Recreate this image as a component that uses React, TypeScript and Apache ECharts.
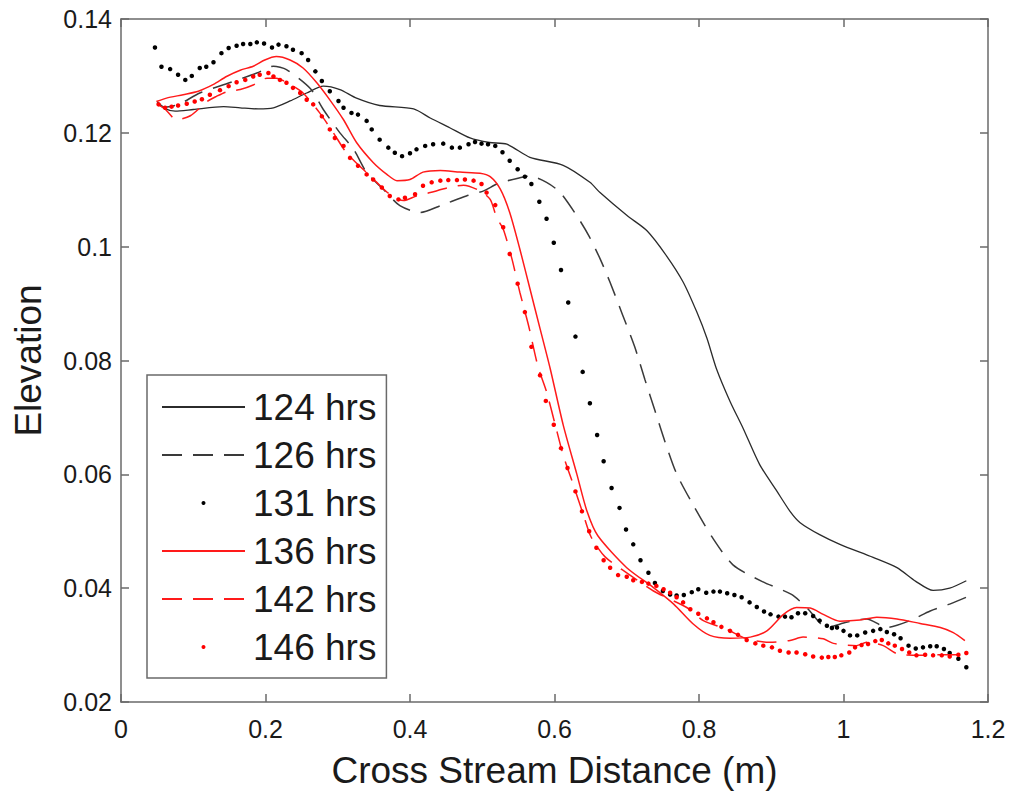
import React, { useEffect, useRef } from "react";
import * as echarts from "echarts";

// ---- Data (x: cross stream distance in m, y: elevation) ----
const seriesNames = ["124 hrs", "126 hrs", "131 hrs", "136 hrs", "142 hrs", "146 hrs"];

const xTickLabels = ["0", "0.2", "0.4", "0.6", "0.8", "1", "1.2"];
const yTickLabels = ["0.02", "0.04", "0.06", "0.08", "0.1", "0.12", "0.14"];

const s124: number[][] = [
  [0.05, 0.1253], [0.06, 0.1243], [0.075, 0.1238], [0.1, 0.1241], [0.142, 0.1246], [0.165, 0.1244],
  [0.19, 0.1242], [0.211, 0.1244], [0.234, 0.1256], [0.257, 0.127], [0.28, 0.1282], [0.303, 0.1276],
  [0.326, 0.1261], [0.358, 0.1248], [0.405, 0.1242], [0.428, 0.1226], [0.455, 0.1209], [0.483, 0.1191],
  [0.51, 0.1183], [0.534, 0.118], [0.566, 0.1157], [0.612, 0.1143], [0.649, 0.1113], [0.663, 0.1095],
  [0.7, 0.1055], [0.728, 0.1028], [0.755, 0.0984], [0.778, 0.0938], [0.797, 0.0885], [0.811, 0.0839],
  [0.824, 0.0786], [0.843, 0.0728], [0.861, 0.0681], [0.884, 0.0617], [0.908, 0.057], [0.926, 0.0535],
  [0.94, 0.0515], [0.967, 0.0494], [0.995, 0.0477], [1.041, 0.0454], [1.074, 0.0436], [1.1, 0.0412],
  [1.124, 0.0396], [1.147, 0.04], [1.17, 0.0413],
];

const s126: number[][] = [
  [0.05, 0.1255], [0.06, 0.1245], [0.08, 0.125], [0.109, 0.127], [0.15, 0.1288], [0.188, 0.1305],
  [0.211, 0.1317], [0.229, 0.1311], [0.262, 0.1278], [0.28, 0.1241], [0.303, 0.12], [0.322, 0.1171],
  [0.34, 0.113], [0.363, 0.1101], [0.386, 0.1072], [0.414, 0.106], [0.442, 0.1072], [0.478, 0.1089],
  [0.502, 0.1098], [0.522, 0.1111], [0.552, 0.1121], [0.566, 0.1124], [0.589, 0.1113], [0.608, 0.1095],
  [0.633, 0.105], [0.648, 0.1018], [0.663, 0.0979], [0.677, 0.0937], [0.694, 0.0881], [0.711, 0.0824],
  [0.725, 0.0767], [0.739, 0.0712], [0.753, 0.0657], [0.769, 0.0601], [0.792, 0.0546], [0.818, 0.049],
  [0.847, 0.0441], [0.887, 0.0412], [0.928, 0.0389], [0.949, 0.0366], [0.977, 0.0331], [1.004, 0.034],
  [1.032, 0.0346], [1.06, 0.0331], [1.092, 0.0343], [1.12, 0.036], [1.147, 0.0372], [1.17, 0.0384],
];

const s131: number[][] = [
  [0.047, 0.135], [0.056, 0.1316], [0.068, 0.1312], [0.079, 0.1302], [0.089, 0.1293], [0.098, 0.13],
  [0.109, 0.1314], [0.118, 0.1316], [0.128, 0.1324], [0.139, 0.134], [0.149, 0.1349], [0.16, 0.1353],
  [0.169, 0.1356], [0.179, 0.1356], [0.188, 0.1359], [0.198, 0.1357], [0.209, 0.135], [0.218, 0.1355],
  [0.229, 0.1352], [0.238, 0.1346], [0.25, 0.134], [0.259, 0.1328], [0.269, 0.1308], [0.278, 0.1291],
  [0.289, 0.1273], [0.301, 0.1256], [0.308, 0.1244], [0.319, 0.1235], [0.328, 0.1232], [0.34, 0.1221],
  [0.347, 0.1206], [0.358, 0.1188], [0.37, 0.1174], [0.379, 0.1165], [0.389, 0.1159], [0.4, 0.1164],
  [0.409, 0.1171], [0.421, 0.1177], [0.432, 0.118], [0.446, 0.1181], [0.458, 0.1174], [0.469, 0.1174],
  [0.481, 0.118], [0.49, 0.1184], [0.499, 0.1181], [0.508, 0.118], [0.518, 0.1177], [0.528, 0.1166],
  [0.538, 0.1151], [0.549, 0.1136], [0.559, 0.1123], [0.568, 0.111], [0.579, 0.1079], [0.589, 0.1049],
  [0.599, 0.1007], [0.609, 0.0959], [0.619, 0.0902], [0.629, 0.0842], [0.639, 0.078], [0.649, 0.0725],
  [0.659, 0.0669], [0.668, 0.0623], [0.679, 0.0576], [0.69, 0.0541], [0.699, 0.0503], [0.709, 0.0477],
  [0.719, 0.0449], [0.73, 0.0427], [0.739, 0.0409], [0.75, 0.0395], [0.76, 0.0389], [0.769, 0.0387],
  [0.779, 0.0388], [0.79, 0.0393], [0.799, 0.0398], [0.81, 0.0392], [0.82, 0.0394], [0.829, 0.0394],
  [0.839, 0.0391], [0.849, 0.0388], [0.859, 0.0384], [0.87, 0.0375], [0.88, 0.0367], [0.89, 0.0359],
  [0.899, 0.0354], [0.91, 0.035], [0.919, 0.035], [0.928, 0.0349], [0.937, 0.0356], [0.947, 0.0356],
  [0.958, 0.0351], [0.967, 0.0343], [0.977, 0.0334], [0.984, 0.033], [0.991, 0.0331], [1.0, 0.0325],
  [1.009, 0.0317], [1.019, 0.0317], [1.03, 0.0322], [1.041, 0.0325], [1.051, 0.0328], [1.06, 0.0323],
  [1.07, 0.0319], [1.079, 0.0312], [1.09, 0.0299], [1.1, 0.0294], [1.11, 0.0296], [1.12, 0.0298],
  [1.129, 0.0298], [1.139, 0.0293], [1.147, 0.0286], [1.159, 0.0276], [1.17, 0.0261],
];

const s136: number[][] = [
  [0.049, 0.1255], [0.063, 0.1261], [0.086, 0.1267], [0.107, 0.1273], [0.128, 0.1285], [0.146, 0.1299],
  [0.165, 0.131], [0.183, 0.1317], [0.199, 0.1328], [0.215, 0.1334], [0.234, 0.1328], [0.252, 0.1314],
  [0.271, 0.1288], [0.289, 0.1258], [0.308, 0.1223], [0.326, 0.1183], [0.349, 0.1148], [0.368, 0.1127],
  [0.382, 0.1116], [0.4, 0.1118], [0.418, 0.1131], [0.442, 0.1134], [0.469, 0.1131], [0.497, 0.1129],
  [0.511, 0.1123], [0.525, 0.1101], [0.538, 0.106], [0.552, 0.0996], [0.566, 0.0926], [0.58, 0.0856],
  [0.594, 0.0786], [0.612, 0.0687], [0.631, 0.06], [0.645, 0.0535], [0.66, 0.0492], [0.7, 0.0436],
  [0.737, 0.0401], [0.765, 0.0372], [0.792, 0.0337], [0.815, 0.0317], [0.843, 0.0312], [0.871, 0.0314],
  [0.894, 0.0325], [0.917, 0.0354], [0.935, 0.0366], [0.954, 0.0365], [0.972, 0.0354], [0.995, 0.0342],
  [1.023, 0.0344], [1.046, 0.0349], [1.074, 0.0346], [1.106, 0.0338], [1.134, 0.0331], [1.152, 0.0322],
  [1.168, 0.0308],
];

const s142: number[][] = [
  [0.05, 0.125], [0.06, 0.1243], [0.077, 0.1223], [0.096, 0.123], [0.119, 0.1255], [0.132, 0.1264],
  [0.146, 0.1272], [0.165, 0.1276], [0.183, 0.1284], [0.202, 0.1296], [0.215, 0.1296], [0.234, 0.1285],
  [0.252, 0.127], [0.275, 0.1235], [0.294, 0.12], [0.312, 0.1165], [0.335, 0.1136], [0.354, 0.1113],
  [0.372, 0.1092], [0.391, 0.1081], [0.409, 0.1089], [0.428, 0.1095], [0.451, 0.1103], [0.474, 0.1108],
  [0.497, 0.1098], [0.511, 0.1083], [0.52, 0.1051], [0.529, 0.1031], [0.541, 0.0979], [0.552, 0.092],
  [0.564, 0.0862], [0.577, 0.079], [0.589, 0.0745], [0.601, 0.0687], [0.612, 0.0634], [0.626, 0.0582],
  [0.64, 0.0529], [0.651, 0.0489], [0.67, 0.0455], [0.7, 0.0427], [0.737, 0.0395], [0.783, 0.0366],
  [0.806, 0.0343], [0.838, 0.0328], [0.866, 0.0311], [0.898, 0.0305], [0.926, 0.0308], [0.944, 0.0314],
  [0.972, 0.0311], [0.986, 0.0303], [1.018, 0.0299], [1.032, 0.0305], [1.055, 0.0299], [1.074, 0.0285],
  [1.106, 0.0282], [1.129, 0.0283], [1.157, 0.0283], [1.17, 0.0286],
];

const s146: number[][] = [
  [0.052, 0.125], [0.061, 0.1244], [0.07, 0.1246], [0.079, 0.1248], [0.091, 0.1251], [0.102, 0.1255],
  [0.112, 0.1259], [0.123, 0.1267], [0.137, 0.1275], [0.149, 0.1282], [0.16, 0.1289], [0.172, 0.1293],
  [0.183, 0.1299], [0.192, 0.1302], [0.204, 0.1305], [0.211, 0.1299], [0.22, 0.1293], [0.229, 0.1288],
  [0.238, 0.1279], [0.248, 0.127], [0.257, 0.1258], [0.266, 0.125], [0.278, 0.1229], [0.289, 0.1206],
  [0.296, 0.1191], [0.308, 0.1177], [0.317, 0.1156], [0.328, 0.1142], [0.34, 0.1127], [0.349, 0.1118],
  [0.361, 0.1104], [0.372, 0.1089], [0.384, 0.1083], [0.393, 0.1086], [0.407, 0.1092], [0.418, 0.1107],
  [0.43, 0.1113], [0.442, 0.1116], [0.453, 0.1117], [0.465, 0.1117], [0.476, 0.1118], [0.488, 0.1116],
  [0.499, 0.111], [0.506, 0.1095], [0.518, 0.1073], [0.529, 0.1034], [0.538, 0.0987], [0.549, 0.0935],
  [0.559, 0.0885], [0.568, 0.0824], [0.58, 0.0774], [0.588, 0.0729], [0.599, 0.0687], [0.609, 0.0646],
  [0.618, 0.0611], [0.629, 0.057], [0.638, 0.0535], [0.648, 0.05], [0.658, 0.0471], [0.668, 0.0449],
  [0.677, 0.0436], [0.688, 0.0423], [0.7, 0.042], [0.709, 0.0414], [0.721, 0.0411], [0.73, 0.0408],
  [0.741, 0.0404], [0.751, 0.0398], [0.76, 0.0392], [0.769, 0.0384], [0.778, 0.0375], [0.788, 0.0363],
  [0.799, 0.0355], [0.811, 0.0347], [0.82, 0.034], [0.831, 0.0332], [0.843, 0.0325], [0.854, 0.0318],
  [0.866, 0.0309], [0.878, 0.0303], [0.889, 0.0299], [0.901, 0.0296], [0.912, 0.029], [0.924, 0.0287],
  [0.935, 0.0287], [0.947, 0.0284], [0.958, 0.028], [0.97, 0.0278], [0.979, 0.0279], [0.988, 0.0279],
  [0.997, 0.0282], [1.008, 0.0287], [1.016, 0.0296], [1.025, 0.03], [1.034, 0.0302], [1.044, 0.0307],
  [1.053, 0.0309], [1.062, 0.0303], [1.071, 0.0299], [1.081, 0.0293], [1.091, 0.0287], [1.101, 0.0282],
  [1.113, 0.0283], [1.124, 0.0282], [1.136, 0.0282], [1.147, 0.028], [1.159, 0.0283], [1.17, 0.0286],
];

const FONT = "'Liberation Sans', Arial, Helvetica, sans-serif";
const AXIS_COLOR = "#6a6a6a";
const TEXT_COLOR = "#1a1a1a";

export default function App() {
  const ref = useRef<HTMLDivElement>(null);

  useEffect(() => {
    if (!ref.current) return;
    const chart = echarts.init(ref.current, null, { renderer: "svg" });

    const xFmt = (v: number) => xTickLabels[Math.round(v / 0.2)] ?? "";
    const yFmt = (v: number) => yTickLabels[Math.round((v - 0.02) / 0.02)] ?? "";

    const lineSeries = (name: string, data: number[][], color: string, type: any, width: number, z: number) => ({
      name,
      type: "line",
      data,
      xAxisIndex: 0,
      yAxisIndex: 0,
      symbol: "none",
      smooth: 0.25,
      z,
      lineStyle: { color, width, type },
      itemStyle: { color },
    });
    const dotSeries = (name: string, data: number[][], color: string, z: number) => ({
      name,
      type: "scatter",
      data,
      xAxisIndex: 0,
      yAxisIndex: 0,
      symbol: "circle",
      symbolSize: 4.5,
      z,
      itemStyle: { color, opacity: 1 },
    });

    const baseAxisLine = { show: true, lineStyle: { color: AXIS_COLOR, width: 1.5 } };
    const baseTick = { show: true, inside: true, length: 8, lineStyle: { color: AXIS_COLOR, width: 1.5 } };

    const lineLegendItem = (name: string) => ({ name, itemStyle: { opacity: 0 } });

    chart.setOption({
      animation: false,
      backgroundColor: "#ffffff",
      textStyle: { fontFamily: FONT },
      grid: { left: 121, right: 22, top: 19, bottom: 89, containLabel: false },
      xAxis: [
        {
          type: "value",
          min: 0,
          max: 1.2,
          interval: 0.2,
          position: "bottom",
          axisLine: { ...baseAxisLine, onZero: false },
          axisTick: baseTick,
          splitLine: { show: false },
          axisLabel: { formatter: xFmt, fontSize: 25, color: TEXT_COLOR, margin: 14, fontFamily: FONT },
          name: "Cross Stream Distance (m)",
          nameLocation: "middle",
          nameGap: 50,
          nameTextStyle: { fontSize: 37, color: TEXT_COLOR, fontFamily: FONT, lineHeight: 37 },
        },
        {
          type: "value",
          min: 0,
          max: 1.2,
          interval: 0.2,
          position: "top",
          axisLine: { ...baseAxisLine, onZero: false },
          axisTick: baseTick,
          splitLine: { show: false },
          axisLabel: { show: false },
        },
      ],
      yAxis: [
        {
          type: "value",
          min: 0.02,
          max: 0.14,
          interval: 0.02,
          position: "left",
          axisLine: { ...baseAxisLine, onZero: false },
          axisTick: baseTick,
          splitLine: { show: false },
          axisLabel: { formatter: yFmt, fontSize: 25, color: TEXT_COLOR, margin: 9, fontFamily: FONT },
          name: "Elevation",
          nameLocation: "middle",
          nameGap: 74,
          nameRotate: 90,
          nameTextStyle: { fontSize: 37, color: TEXT_COLOR, fontFamily: FONT, lineHeight: 37 },
        },
        {
          type: "value",
          min: 0.02,
          max: 0.14,
          interval: 0.02,
          position: "right",
          axisLine: { ...baseAxisLine, onZero: false },
          axisTick: baseTick,
          splitLine: { show: false },
          axisLabel: { show: false },
        },
      ],
      legend: {
        show: true,
        orient: "vertical",
        left: 147,
        top: 375,
        data: [
          lineLegendItem(seriesNames[0]),
          lineLegendItem(seriesNames[1]),
          { name: seriesNames[2] },
          lineLegendItem(seriesNames[3]),
          lineLegendItem(seriesNames[4]),
          { name: seriesNames[5] },
        ],
        itemWidth: 83,
        itemHeight: 4,
        itemGap: 8,
        padding: [12, 10, 11, 14],
        borderColor: AXIS_COLOR,
        borderWidth: 1.5,
        backgroundColor: "#ffffff",
        textStyle: { fontSize: 37, color: TEXT_COLOR, fontFamily: FONT, lineHeight: 40, padding: [0, 0, 0, 3] },
        selectedMode: false,
      },
      series: [
        lineSeries(seriesNames[0], s124, "#2b2b2b", "solid", 1.3, 2),
        lineSeries(seriesNames[1], s126, "#3a3a3a", [20, 11], 1.5, 3),
        dotSeries(seriesNames[2], s131, "#000000", 4),
        lineSeries(seriesNames[3], s136, "#ff1a1a", "solid", 1.5, 5),
        lineSeries(seriesNames[4], s142, "#ff1a1a", [20, 11], 1.5, 6),
        dotSeries(seriesNames[5], s146, "#ff0000", 7),
      ],
    });

    return () => chart.dispose();
  }, []);

  return (
    <div
      ref={ref}
      style={{ position: "fixed", left: 0, top: 0, width: 1010, height: 794, background: "#fff" }}
    />
  );
}
